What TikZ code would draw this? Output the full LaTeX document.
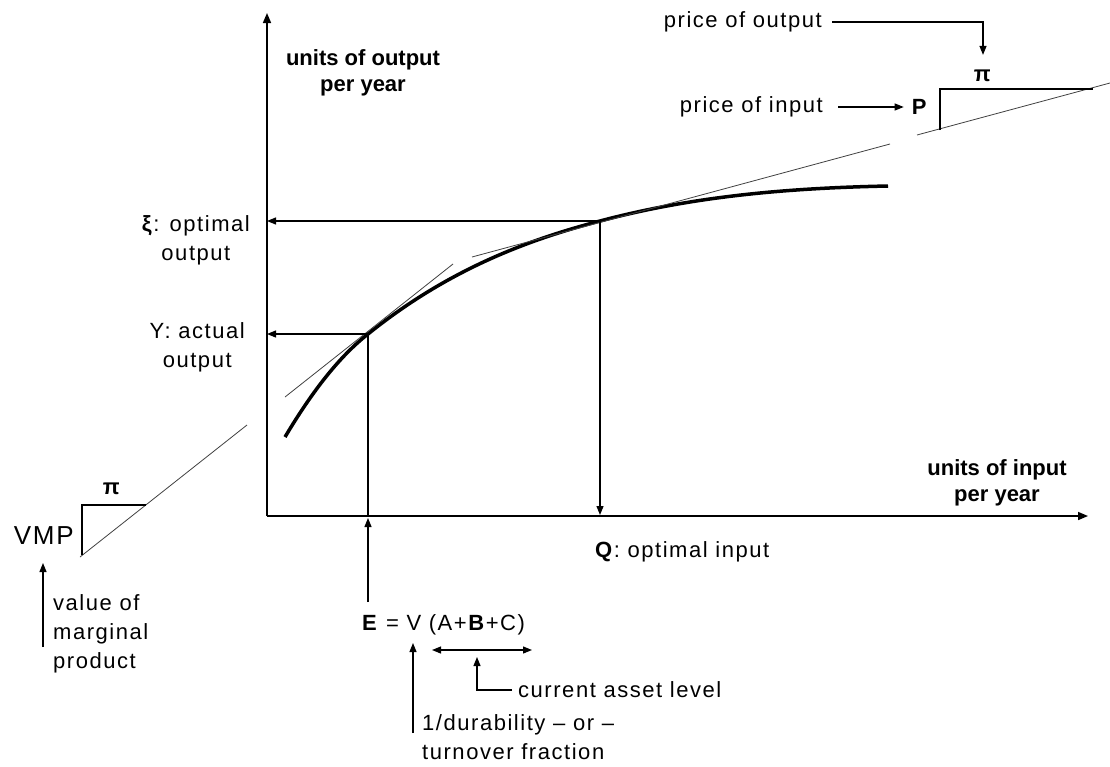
\documentclass[tikz,border=0pt]{standalone}
\usepackage{fontspec}
\setmainfont{Liberation Sans}[LetterSpace=7]
\newfontfamily\axisfont{Liberation Sans}
\usetikzlibrary{arrows.meta}

\begin{document}
\begin{tikzpicture}[x=1pt, y=-1pt,
  lbl/.style={inner sep=0pt, align=center, font=\fontsize{22}{29}\selectfont},
  axlbl/.style={inner sep=0pt, align=center, font=\axisfont\bfseries\fontsize{22}{26}\selectfont},
  arr/.style={-{Triangle[length=9pt,width=7pt]}, line width=1.2pt},
  axis/.style={-{Triangle[length=10pt,width=8pt]}, line width=1.6pt},
  tang/.style={line width=0.8pt, black!75},
  curve/.style={line width=3.5pt},
  wedge/.style={line width=1.2pt}
]
\useasboundingbox (0,0) rectangle (1110,766);

% axes
\coordinate (O) at (267,516);
\draw[axis] (O) -- (267,13);
\draw[axis] (O) -- (1088,516);
\node[axlbl] (ylab) at (363,73) {units of output\\per year};
\node[axlbl] (xlab) at (997,483) {units of input\\per year};

% production curve and tangents
\coordinate (ypt) at (368,334);
\coordinate (xipt) at (600,221);
\draw[curve] (285,437) .. controls (313,390) and (340,356) .. (ypt)
  .. controls (445,272) and (523,241) .. (xipt)
  .. controls (696,195.5) and (792,188) .. (888,186);
\draw[tang] (285,397) -- (453,264);
\draw[tang] (80,557) -- (247,425);
\draw[tang] (472,257) -- (890,144);
\draw[tang] (917,135) -- (1110,83);

% read-offs
\draw[arr] (xipt) -- (xipt -| O);
\draw[arr] (ypt) -- (ypt -| O);
\draw[arr, shorten >=1pt] (xipt) -- (xipt |- O);
\draw[line width=1.2pt] (ypt) -- (ypt |- O);
\node[lbl, anchor=east] (xi) at (250,240) {\textbf{ξ}: optimal\\output};
\node[lbl, anchor=east] (yact) at (245,347) {Y: actual\\output};
\node[lbl, anchor=west] (qlab) at (595,552) {\textbf{Q}: optimal input};

% price wedge
\draw[wedge] (940,130) -- (940,89) -- (1093,89);
\node[lbl] (pi1) at (983,76) {\textbf{π}};
\node[lbl] (P) at (920,107) {\textbf{P}};
\node[lbl, anchor=east] (pin) at (823,107) {price of input};
\node[lbl, anchor=east] (pout) at (822,22) {price of output};
\draw[arr, shorten <=15pt, shorten >=8pt] (pin.east) -- (P.west);
\draw[arr, shorten <=10pt, shorten >=15pt] (pout.east) -| (pi1.north);

% VMP wedge
\draw[wedge] (82,555) -- (82,505) -- (146,505);
\node[lbl] (pi2) at (112,489) {\textbf{π}};
\node[lbl, anchor=east, font=\fontsize{26}{30}\selectfont] (vmp) at (74,536) {VMP};
\node[lbl, align=left, anchor=west] (vmpnote) at (53,634) {value of\\marginal\\product};
\coordinate (vmpfoot) at (43,647);
\draw[arr] (vmpfoot) -- (43,563);

% expense equation
\node[lbl, anchor=west] (eq) at (362,625) {\textbf{E} = V (A+\textbf{B}+C)};
\coordinate (efoot) at (368,602);
\draw[arr, shorten >=2pt] (efoot) -- (ypt |- O);
\node[lbl, anchor=west] (asset) at (518,690) {current asset level};
\node[lbl, align=left, anchor=west] (durab) at (422,737) {1/durability -- or --\\turnover fraction};
\coordinate (vfoot) at (413,733);
\draw[arr] (vfoot) -- (413,643);
\draw[arr, {Triangle[length=9pt,width=7pt]}-{Triangle[length=9pt,width=7pt]}] (432,650) -- (532,650);
\draw[arr, shorten <=6pt] (asset.west) -| (477,657);
\end{tikzpicture}
\end{document}
